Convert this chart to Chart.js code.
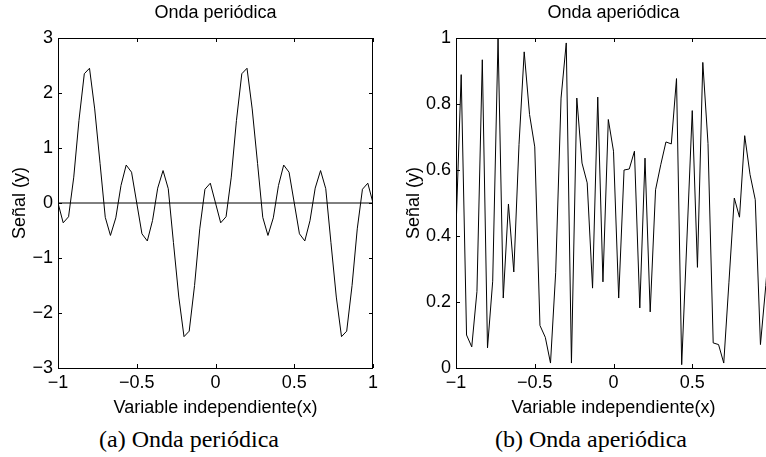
<!DOCTYPE html>
<html>
<head>
<meta charset="utf-8">
<script src="https://cdn.jsdelivr.net/npm/chart.js@4/dist/chart.umd.min.js"></script>
<style>
  html, body { margin: 0; padding: 0; background: #fff; overflow: hidden; }
  body { width: 766px; height: 457px; position: relative; }
  canvas { position: absolute; top: 0; }
  #left { left: 0; }
  #right { left: 390px; }
  .caption {
    position: absolute; top: 425px; width: 300px; text-align: center;
    font: 24px/28px "Liberation Serif", "Times New Roman", serif; color: #000;
    white-space: nowrap;
  }
</style>
</head>
<body>
<canvas id="left" width="390" height="420"></canvas>
<canvas id="right" width="400" height="420"></canvas>
<div class="caption" style="left:39px">(a) Onda periódica</div>
<div class="caption" style="left:441px">(b) Onda aperiódica</div>
<script>
// sample positions shared by both plots
const xSamples = [
  -1, -0.967, -0.933, -0.9, -0.867, -0.833, -0.8, -0.767, -0.733, -0.7,
  -0.667, -0.633, -0.6, -0.567, -0.533, -0.5, -0.467, -0.433, -0.4, -0.367,
  -0.333, -0.3, -0.267, -0.233, -0.2, -0.167, -0.133, -0.1, -0.067, -0.033,
  0, 0.033, 0.067, 0.1, 0.133, 0.167, 0.2, 0.233, 0.267, 0.3,
  0.333, 0.367, 0.4, 0.433, 0.467, 0.5, 0.533, 0.567, 0.6, 0.633,
  0.667, 0.7, 0.733, 0.767, 0.8, 0.833, 0.867, 0.9, 0.933, 0.967, 1
];

const periodicY = [
  0, -0.36, -0.25, 0.47, 1.50, 2.35, 2.45, 1.71, 0.72, -0.26,
  -0.59, -0.27, 0.32, 0.69, 0.56, 0.0, -0.56, -0.69, -0.32, 0.27,
  0.59, 0.26, -0.72, -1.71, -2.43, -2.33, -1.50, -0.47, 0.25, 0.36,
  0, -0.36, -0.25, 0.47, 1.50, 2.35, 2.45, 1.71, 0.72, -0.26,
  -0.59, -0.27, 0.32, 0.69, 0.56, 0.0, -0.56, -0.69, -0.32, 0.27,
  0.59, 0.26, -0.72, -1.71, -2.43, -2.33, -1.50, -0.47, 0.25, 0.36, 0
];

const aperiodicY = [
  0.42, 0.889, 0.10, 0.064, 0.232, 0.934, 0.061, 0.263, 1.0, 0.212,
  0.497, 0.291, 0.677, 0.958, 0.768, 0.670, 0.129, 0.093, 0.015, 0.29,
  0.818, 0.985, 0.015, 0.818, 0.621, 0.561, 0.242, 0.821, 0.261, 0.753,
  0.657, 0.212, 0.600, 0.603, 0.657, 0.182, 0.636, 0.170, 0.540, 0.616,
  0.685, 0.679, 0.877, 0.010, 0.40, 0.780, 0.305, 0.926, 0.68, 0.076,
  0.071, 0.015, 0.26, 0.515, 0.457, 0.704, 0.586, 0.510, 0.071, 0.25, 0.45
];

const zeroLine = [{ x: -1, y: 0 }, { x: 1, y: 0 }];

const titles = ["Onda periódica", "Onda aperiódica"];
const xTitle = "Variable independiente(x)";
const yTitle = "Señal (y)";

Chart.defaults.font.family = '"Liberation Sans", Arial, Helvetica, sans-serif';
Chart.defaults.color = "#000";

const TICK_LEN = 4;

function fmtTick(v) {
  const r = Math.round(v * 100) / 100;
  return r < 0 ? "\u2212" + Math.abs(r) : String(r);
}

// MATLAB style: full box plus inward tick marks on every side
const matlabFrame = {
  id: "matlabFrame",
  afterDatasetsDraw(chart) {
    const { ctx, chartArea: a, scales: { x, y } } = chart;
    ctx.save();
    ctx.strokeStyle = "#000";
    ctx.lineWidth = 1;
    ctx.beginPath();
    for (const t of x.ticks) {
      const px = Math.round(x.getPixelForValue(t.value)) + 0.5;
      ctx.moveTo(px, a.bottom); ctx.lineTo(px, a.bottom - TICK_LEN);
      ctx.moveTo(px, a.top); ctx.lineTo(px, a.top + TICK_LEN);
    }
    for (const t of y.ticks) {
      const py = Math.round(y.getPixelForValue(t.value)) + 0.5;
      ctx.moveTo(a.left, py); ctx.lineTo(a.left + TICK_LEN, py);
      ctx.moveTo(a.right, py); ctx.lineTo(a.right - TICK_LEN, py);
    }
    ctx.stroke();
    ctx.strokeRect(a.left + 0.5, a.top + 0.5, a.right - a.left - 1, a.bottom - a.top);
    ctx.restore();
  }
};

function makeOptions({ title, yMin, yMax, yStep, yWidth, padRight, yTitlePad }) {
  return {
    responsive: false,
    animation: false,
    devicePixelRatio: 1,
    layout: { padding: { left: 0, right: padRight, top: 0, bottom: 0 } },
    plugins: {
      legend: { display: false },
      tooltip: { enabled: false },
      title: {
        display: true,
        text: title,
        fullSize: false,
        color: "#000",
        font: { size: 18, weight: "normal", lineHeight: "22px" },
        padding: { top: 2, bottom: 14 }
      }
    },
    scales: {
      x: {
        type: "linear",
        min: -1, max: 1,
        grid: { display: false, drawTicks: false },
        border: { display: false },
        ticks: { stepSize: 0.5, autoSkip: false, maxRotation: 0, padding: 4, font: { size: 18 }, callback: fmtTick },
        title: { display: true, text: xTitle, font: { size: 18 }, padding: { top: 0, bottom: 1 } },
        afterFit: s => { s.height = 52; }
      },
      y: {
        type: "linear",
        min: yMin, max: yMax,
        grid: { display: false, drawTicks: false },
        border: { display: false },
        ticks: { stepSize: yStep, padding: 5, font: { size: 18 }, callback: fmtTick },
        title: { display: true, text: yTitle, font: { size: 18 }, padding: { top: yTitlePad, bottom: 0 } },
        afterFit: s => { s.width = yWidth; }
      }
    }
  };
}

const lineStyle = { borderColor: "#000", borderWidth: 1, pointRadius: 0, tension: 0, fill: false };

new Chart(document.getElementById("left"), {
  type: "line",
  data: {
    datasets: [
      { ...lineStyle, data: xSamples.map((x, i) => ({ x, y: periodicY[i] })) },
      { ...lineStyle, data: zeroLine }
    ]
  },
  options: makeOptions({ title: titles[0], yMin: -3, yMax: 3, yStep: 1, yWidth: 58, padRight: 17, yTitlePad: 9 }),
  plugins: [matlabFrame]
});

new Chart(document.getElementById("right"), {
  type: "line",
  data: {
    datasets: [
      { ...lineStyle, data: xSamples.map((x, i) => ({ x, y: aperiodicY[i] })) }
    ]
  },
  options: makeOptions({ title: titles[1], yMin: 0, yMax: 1, yStep: 0.2, yWidth: 66, padRight: 19, yTitlePad: 13 }),
  plugins: [matlabFrame]
});
</script>
</body>
</html>
